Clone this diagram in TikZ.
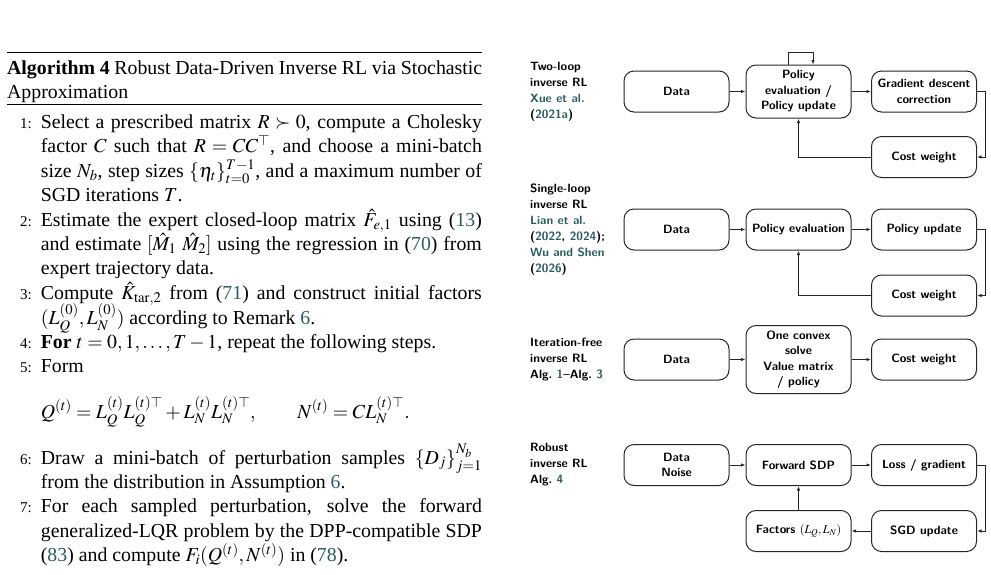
\documentclass[tikz,border=0pt]{standalone}
\usepackage{mathptmx}
\usepackage{fontspec}
\setmainfont{Liberation Serif}
\usetikzlibrary{arrows.meta}
\definecolor{citecol}{RGB}{40,92,98}
\newcommand{\jl}[1]{\makebox[441pt][s]{#1}}
\newcommand{\tl}[1]{\makebox[475pt][s]{#1}}
\newcommand{\rf}[1]{(\textcolor{citecol}{#1})}
\newcommand{\cc}[1]{\textcolor{citecol}{#1}}
\begin{document}
\begin{tikzpicture}[x=1pt,y=-1pt,
  alg/.style={anchor=base west, inner sep=0pt, font=\fontsize{19.8}{24.4}\selectfont},
  num/.style={anchor=base west, inner sep=0pt, font=\fontsize{15}{18}\selectfont},
  box/.style={draw=black!85, line width=1pt, rounded corners=10pt, minimum width=105pt,
    minimum height=41pt, align=center, inner sep=2pt,
    font=\sffamily\bfseries\fontsize{12}{15.5}\selectfont},
  lab/.style={anchor=west, align=left, inner sep=0pt,
    font=\sffamily\bfseries\fontsize{12}{16}\selectfont},
  arr/.style={-{Latex[length=4.5pt,width=3.4pt]}, line width=0.9pt, draw=black!85}]
\useasboundingbox (0,0) rectangle (991,574);

% ---------------- algorithm text ----------------
\draw[line width=1.2pt] (7,52.5) coordinate (r1a) -- (482,52.5) coordinate (r1b);
\node[alg] (t1) at (7,74) {\tl{\textbf{Algorithm 4} Robust Data-Driven Inverse RL via Stochastic}};
\node[alg] (t2) at (7,98) {Approximation};
\draw[line width=0.7pt] (7,104) coordinate (r2a) -- (482,104) coordinate (r2b);

\node[num] (n1) at (20,128.5) {1:};
\node[alg] (a1) at (40.7,128.5) {\jl{Select a prescribed matrix $R \succ 0$, compute a Cholesky}};
\node[alg] (a2) at (40.7,152.9) {\jl{factor $C$ such that $R = CC^{\top}$, and choose a mini-batch}};
\node[alg] (a3) at (40.7,177.3) {\jl{size $N_b$, step sizes $\{\eta_t\}_{t=0}^{T-1}$, and a maximum number of}};
\node[alg] (a4) at (40.7,201.7) {SGD iterations $T$.};
\node[num] (n2) at (20,226.1) {2:};
\node[alg] (b1) at (40.7,226.1) {\jl{Estimate the expert closed-loop matrix $\hat F_{e,1}$ using \rf{13}}};
\node[alg] (b2) at (40.7,250.5) {\jl{and estimate $[\hat M_1\ \hat M_2]$ using the regression in \rf{70} from}};
\node[alg] (b3) at (40.7,274.9) {expert trajectory data.};
\node[num] (n3) at (20,299.3) {3:};
\node[alg] (c1t) at (40.7,299.3) {\jl{Compute $\hat K_{\mathrm{tar},2}$ from \rf{71} and construct initial factors}};
\node[alg] (c2t) at (40.7,324.5) {$(L_Q^{(0)}, L_N^{(0)})$ according to Remark \cc{6}.};
\node[num] (n4) at (20,348.5) {4:};
\node[alg] (d1t) at (40.7,348.5) {\textbf{For} $t = 0, 1, \dots, T-1$, repeat the following steps.};
\node[num] (n5) at (20,372.9) {5:};
\node[alg] (e1t) at (40.7,372.9) {Form};
\node[alg] (eq) at (40.7,418) {$Q^{(t)} = L_Q^{(t)} L_Q^{(t)\top} + L_N^{(t)} L_N^{(t)\top}, \qquad N^{(t)} = C L_N^{(t)\top}.$};
\node[num] (n6) at (20,464) {6:};
\node[alg] (f1t) at (40.7,464) {\jl{Draw a mini-batch of perturbation samples $\{D_j\}_{j=1}^{N_b}$}};
\node[alg] (f2t) at (40.7,488.4) {from the distribution in Assumption \cc{6}.};
\node[num] (n7) at (20,512.8) {7:};
\node[alg] (g1t) at (40.7,512.8) {\jl{For each sampled perturbation, solve the forward}};
\node[alg] (g2t) at (40.7,537.2) {\jl{generalized-LQR problem by the DPP-compatible SDP}};
\node[alg] (g3t) at (40.7,561.6) {\rf{83} and compute $F_i(Q^{(t)}, N^{(t)})$ in \rf{78}.};

% ---------------- diagram ----------------
% Row 1
\node[lab] (l1) at (530,91.5) {Two-loop\\inverse RL\\\cc{Xue et al.}\\(\cc{2021a})};
\node[box] (d1) at (676.5,91.5) {Data};
\node[box, minimum height=53pt] (p1) at (798.5,91.5) {Policy\\evaluation /\\Policy update};
\node[box] (g1) at (924,91.5) {Gradient descent\\correction};
\node[box] (c1) at (924,157) {Cost weight};
\draw[arr] (d1) -- (p1);
\draw[arr] ([xshift=-10.5pt]p1.north) -- ++(0,-12) -| ([xshift=14.5pt]p1.north);
\draw[arr] (p1) -- (g1);
\draw[arr] (g1.east) -- ++(8,0) |- (c1.east);
\draw[arr] (c1.west) -| (p1.south);

% Row 2
\node[lab] (l2) at (530,229.5) {Single-loop\\inverse RL\\\cc{Lian et al.}\\(\cc{2022}, \cc{2024});\\\cc{Wu and Shen}\\(\cc{2026})};
\node[box] (d2) at (676.5,229.5) {Data};
\node[box] (e2) at (798.5,229.5) {Policy evaluation};
\node[box] (u2) at (924,229.5) {Policy update};
\node[box] (c2) at (924,295.5) {Cost weight};
\draw[arr] (d2) -- (e2);
\draw[arr] (e2) -- (u2);
\draw[arr] (u2.east) -- ++(8,0) |- (c2.east);
\draw[arr] (c2.west) -| (e2.south);

% Row 3
\node[lab] (l3) at (530,359.5) {Iteration-free\\inverse RL\\Alg.~\cc{1}--Alg.~\cc{3}};
\node[box] (d3) at (676.5,359.5) {Data};
\node[box, minimum height=68pt] (o3) at (798.5,359.5) {One convex\\solve\\Value matrix\\/ policy};
\node[box] (w3) at (924,359.5) {Cost weight};
\draw[arr] (d3) -- (o3);
\draw[arr] (o3) -- (w3);

% Row 4
\node[lab] (l4) at (530,465) {Robust\\inverse RL\\Alg.~\cc{4}};
\node[box] (d4) at (676.5,465) {Data\\Noise};
\node[box] (f4) at (798.5,465) {Forward SDP};
\node[box] (s4l) at (924,465) {Loss / gradient};
\node[box] (s4) at (924,531) {SGD update};
\node[box] (fa4) at (798.5,531) {Factors $(L_Q, L_N)$};
\draw[arr] (d4) -- (f4);
\draw[arr] (f4) -- (s4l);
\draw[arr] (s4l.east) -- ++(8,0) |- (s4.east);
\draw[arr] (s4) -- (fa4);
\draw[arr] (fa4) -- (f4);
\end{tikzpicture}
\end{document}
